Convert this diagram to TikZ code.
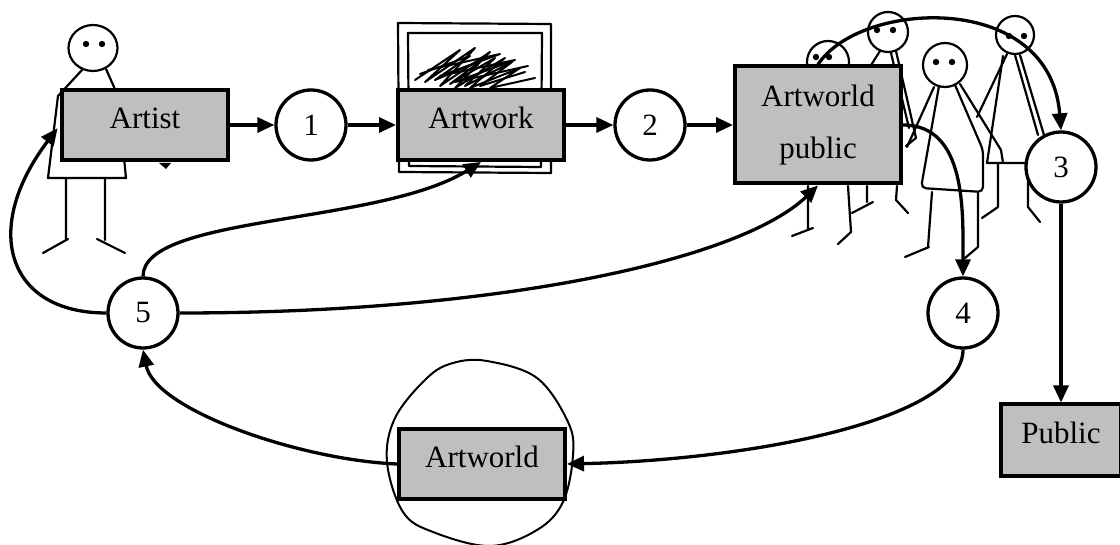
\documentclass[tikz,border=0pt]{standalone}
\usepackage{fontspec}
\setmainfont{Liberation Serif}
\usetikzlibrary{arrows.meta}
\definecolor{boxgray}{RGB}{191,191,191}

\begin{document}
\begin{tikzpicture}[x=1pt,y=-1pt,>={Triangle[length=17pt,width=15pt]},
  font=\fontsize{31}{52}\selectfont,
  box/.style={draw,line width=4pt,fill=boxgray,minimum width=166pt,minimum height=70pt,inner sep=0pt},
  onebox/.style={box,text height=21pt,text depth=14pt},
  num/.style={circle,draw,line width=3.3pt,fill=white,minimum size=70pt,inner sep=0pt},
  link/.style={->,line width=3.3pt},
  stick/.style={line width=2.2pt,line cap=round,line join=round}]
  \useasboundingbox (0,0) rectangle (1120,545);

  % the artist
  \draw[stick] (93,48) ellipse[x radius=24.5pt,y radius=23pt];
  \fill (86,44) circle[radius=3.2pt] (102,44) circle[radius=3.2pt];
  \draw[stick] (82,70) -- (58,96) -- (48,178) -- (126,178) -- (118,96) -- (106,69);
  \draw[stick] (66,178) -- (66,240) (43,253) -- (68,239);
  \draw[stick] (105,178) -- (105,240) (97,239) -- (125,253);
  \fill (159,163) -- (171,163) -- (166,169) -- cycle;

  % the artwork in its frame
  \draw[stick] (398,23) -- (551,24) -- (551,173) -- (399,172) -- cycle;
  \draw[stick] (408,33) -- (542,33) -- (541,167) -- (409,166) -- cycle;
  \draw[stick,line width=2pt] (415,80) -- (460,50) -- (425,82) -- (475,48) -- (440,86) -- (490,52)
    -- (455,88) -- (505,58) -- (470,88) -- (520,68) -- (490,88) -- (535,78);
  \draw[stick,line width=2pt] (420,74) -- (470,56) -- (435,80) -- (482,60) -- (450,84) -- (495,58)
    -- (465,86) -- (512,62) -- (480,86) -- (525,72);
  \draw[stick,line width=2pt] (428,70) -- (500,54) -- (440,76) -- (515,60) -- (455,82) -- (528,66);

  % the crowd
  \draw[stick] (828,62) circle[radius=21pt];
  \fill (816,57) circle[radius=3.2pt] (829,57) circle[radius=3.2pt];
  \draw[stick] (808,186) -- (808,229) (792,236) -- (813,228);
  \draw[stick] (848,186) -- (851,232) -- (838,244);

  \draw[stick] (888,32) circle[radius=20pt];
  \fill (877,30) circle[radius=3.2pt] (893,30) circle[radius=3.2pt];
  \draw[stick] (880,51) -- (868,70);
  \draw[stick] (896,51) -- (916,138) -- (906,146);
  \draw[stick] (891,53) -- (909,128);
  \draw[stick] (867,186) -- (867,202) (852,213) -- (873,202);
  \draw[stick] (897,186) -- (896,200) -- (908,213);

  \draw[stick] (945,65) circle[radius=22pt];
  \fill (936,62) circle[radius=3.2pt] (952,62) circle[radius=3.2pt];
  \draw[stick] (934,87) -- (907,147);
  \draw[stick,rounded corners=5pt] (939,86) -- (921,188) -- (983,192) -- (983,150) -- (955,85);
  \draw[stick] (960,84) -- (1001,150) -- (1003,163);
  \draw[stick] (932,192) -- (928,247) (905,257) -- (929,247);
  \draw[stick] (978,192) -- (978,247) -- (965,258);

  \draw[stick] (1015,35) circle[radius=19pt];
  \fill (1009,36) circle[radius=3.2pt] (1024,36) circle[radius=3.2pt];
  \draw[stick] (1007,54) -- (977,117);
  \draw[stick] (1003,56) -- (987,163) -- (1025,163);
  \draw[stick] (1015,55) -- (1038,135) (1020,55) -- (1044,135);
  \draw[stick] (998,163) -- (998,207) (982,218) -- (998,207);
  \draw[stick] (1028,160) -- (1028,207) -- (1040,222);

  % ring round the artworld
  \draw[line width=2pt] plot[smooth cycle,tension=0.6] coordinates {(487,361) (537,378) (568,422) (573,455)
    (563,502) (537,530) (490,546) (433,532) (403,512) (387,462) (395,418) (427,378) (453,363)};

  \node[onebox] (artist) at (145,125) {Artist};
  \node[num] (c1) at (311,125) {1};
  \node[onebox] (artwork) at (481,125) {Artwork};
  \node[num] (c2) at (650,125) {2};
  \node[box,minimum height=117pt,align=center] (apub) at (818,125) {Artworld\\public};
  \node[num] (c3) at (1061,167) {3};
  \node[num] (c4) at (963,313) {4};
  \node[num] (c5) at (143,313) {5};
  \node[onebox,minimum width=120pt,minimum height=71pt] (public) at (1061,440) {Public};
  \node[onebox] (aworld) at (482,464) {Artworld};

  \draw[link] (artist) -- (c1);
  \draw[link] (c1) -- (artwork);
  \draw[link] (artwork) -- (c2);
  \draw[link] (c2) -- (apub);
  \draw[link] (apub.north) .. controls (860,0) and (1050,-10) .. (c3.north);
  \draw[link] (apub.east) to[out=0,in=90] (c4.north);
  \draw[link] (c3.south) -- (public.north);
  \draw[link] (c4.south) .. controls (963,420) and (750,460) .. (aworld.east);
  \draw[link] (aworld.west) .. controls (300,460) and (155,410) .. (c5.south);
  \draw[link,shorten >=4pt] (c5.west) .. controls (7,313) and (-19,229) .. (artist.west);
  \draw[link] (c5.north) .. controls (143,215) and (380,225) .. (artwork.south);
  \draw[link] (c5.east) .. controls (500,313) and (740,260) .. (apub.south);
\end{tikzpicture}
\end{document}
